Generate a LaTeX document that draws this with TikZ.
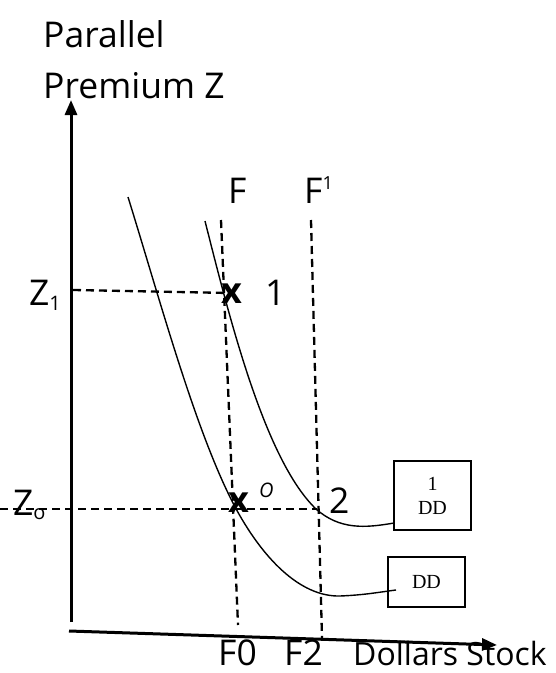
\documentclass[tikz,border=0pt]{standalone}
\usepackage{fontspec}
\setmainfont{Open Sans}
\newfontfamily\serifbox{Liberation Serif}
\usetikzlibrary{arrows.meta}
\begin{document}
\begin{tikzpicture}[x=1pt,y=-1pt]
\tikzset{
  axis/.style={line width=3pt, -{Triangle[length=15pt,width=12pt]}},
  guide/.style={line width=2.3pt, dash pattern=on 8pt off 5pt},
  curve/.style={line width=1.4pt},
  lab/.style={font=\fontsize{35.5}{40}\selectfont, inner sep=0pt},
  small/.style={font=\fontsize{20}{22}\selectfont, inner sep=0pt},
  crossmark/.style={font=\fontsize{36}{40}\selectfont\bfseries, inner sep=0pt},
  ddbox/.style={draw, line width=1.6pt, font=\serifbox\fontsize{20}{22}\selectfont, align=center, inner sep=0pt}
}
\useasboundingbox (0,0) rectangle (556,673);
% axes
\coordinate (Ybot) at (71,622);
\coordinate (Ytop) at (71,100);
\coordinate (Xs) at (69,631);
\coordinate (Xe) at (497,645);
\draw[axis] (Ybot) -- (Ytop);
\draw[axis] (Xs) -- (Xe);
% guides
\coordinate (Ft) at (221,220);
\coordinate (Fb) at (238,625);
\coordinate (F1t) at (311,220);
\coordinate (F1b) at (322,638);
\coordinate (Z1s) at (73,290);
\coordinate (P1) at (229,293);
\coordinate (Z0s) at (0,509);
\coordinate (P2) at (317,509);
\draw[guide] (Ft) -- (Fb);
\draw[guide] (F1t) -- (F1b);
\draw[guide] (Z1s) -- (P1);
\draw[guide] (Z0s) -- (P2);
% boxes
\node[ddbox, minimum width=77pt, minimum height=69pt] (dd1) at (432.5,495.5) {1\\[2pt]DD};
\node[ddbox, minimum width=77pt, minimum height=50pt] (dd0) at (426.5,582) {DD};
% curves
\coordinate (U0) at (205,221);
\coordinate (U1) at (316,509);
\coordinate (U2) at (394,523);
\draw[curve] (U0) .. controls (230,320) and (265,460) .. (U1)
  .. controls (340,530) and (365,528) .. (U2);
\coordinate (L0) at (128,197);
\coordinate (L1) at (234,505);
\coordinate (L2) at (340,596);
\coordinate (L3) at (396,590);
\draw[curve] (L0) .. controls (160,300) and (195,430) .. (L1)
  .. controls (262,558) and (300,597) .. (L2)
  .. controls (365,595) and (380,592) .. (L3);
% crosses
\node[crossmark] (c1) at (232,294) {x};
\node[crossmark] (c0) at (239,503) {x};
% labels
\node[lab, anchor=base west] (par) at (43,47) {Parallel};
\node[lab, anchor=base west] (prem) at (43,98) {Premium Z};
\node[lab, anchor=base west] (Flab) at (228,203) {F};
\node[lab, anchor=base west] (F1lab) at (304,203) {F\raisebox{14pt}{\fontsize{18}{20}\selectfont 1}};
\node[lab, anchor=base west] (Z1lab) at (29,305) {Z\raisebox{-5pt}{\fontsize{20}{22}\selectfont 1}};
\node[lab, anchor=base west] (Z0lab) at (13,515) {Z\raisebox{-4pt}{\fontsize{20}{22}\selectfont o}};
\node[lab, anchor=base west] (one) at (265,305) {1};
\node[lab, anchor=base west] (two) at (329,513) {2};
\node[small, anchor=base west] (olab) at (259,497) {\itshape O};
\node[lab, anchor=base west] (F0lab) at (218,665) {F0};
\node[lab, anchor=base west] (F2lab) at (284,665) {F2};
\node[lab, anchor=base west, font=\fontsize{32}{36}\selectfont] (dol) at (353,665) {Dollars Stock};
\end{tikzpicture}
\end{document}
